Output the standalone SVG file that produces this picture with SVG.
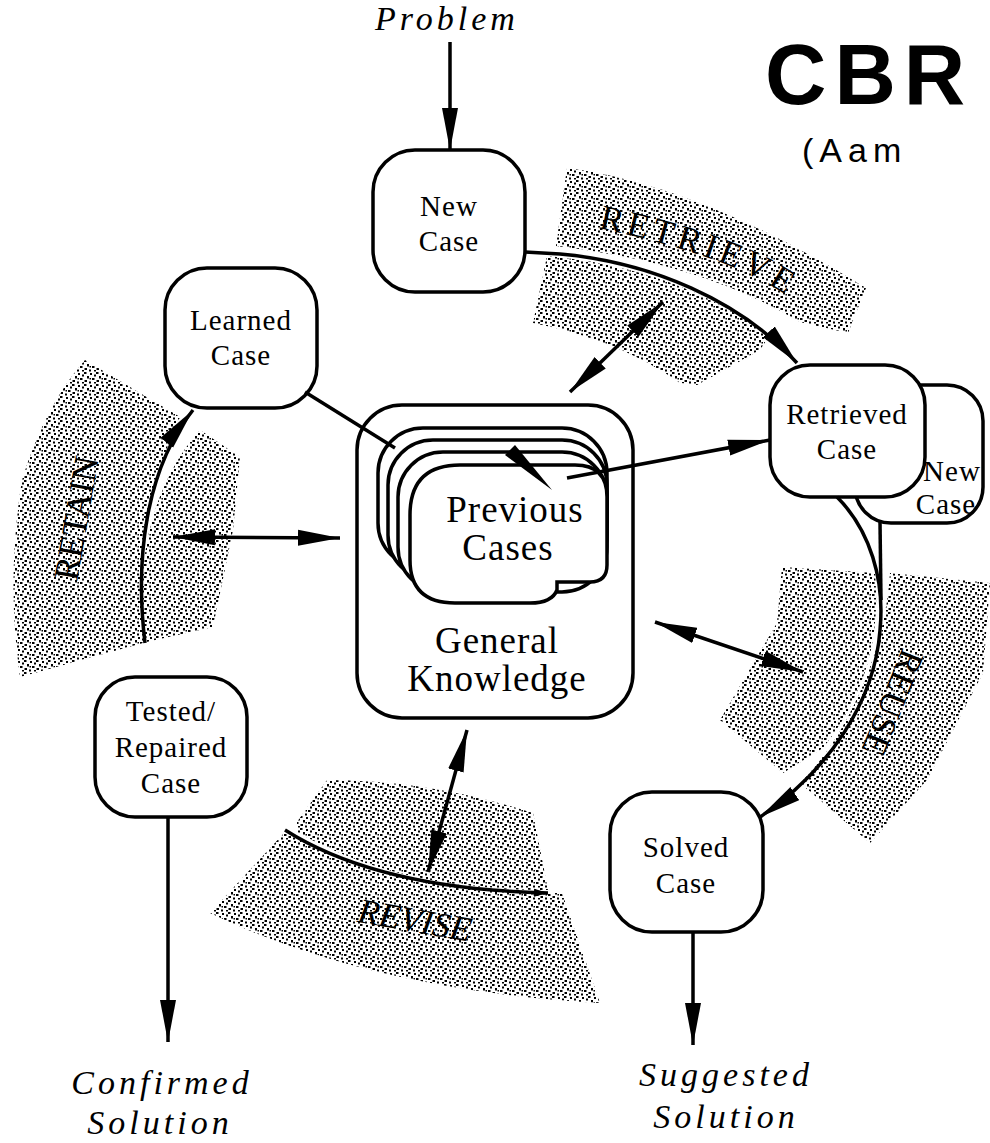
<svg xmlns="http://www.w3.org/2000/svg" width="990" height="1143" viewBox="0 0 990 1143">
<style>
.box{fill:#fff;stroke:#000;stroke-width:3.5}
.ln{fill:none;stroke:#000;stroke-width:3.5}
.band{fill:url(#dots)}
.nt{font-family:"Liberation Serif",serif;font-size:29px;text-anchor:middle;fill:#000;letter-spacing:1px}
.big{font-family:"Liberation Serif",serif;font-size:37px;text-anchor:middle;fill:#000;letter-spacing:1px}
.it{font-family:"Liberation Serif",serif;font-style:italic;font-size:34px;text-anchor:middle;fill:#000;letter-spacing:4px}
.step{font-family:"Liberation Serif",serif;font-size:35px;fill:#000}
</style>
<defs>
<pattern id="dots" width="12" height="12" patternUnits="userSpaceOnUse">
<rect width="12" height="12" fill="#fff"/>
<rect x="0" y="0" width="2.5" height="2"/>
<rect x="6" y="1" width="2" height="2"/>
<rect x="10" y="2.5" width="2" height="2"/>
<rect x="3" y="4" width="2" height="2.5"/>
<rect x="8" y="6" width="2.5" height="2"/>
<rect x="0.5" y="8" width="2.5" height="2"/>
<rect x="5" y="9.5" width="2" height="2"/>
<rect x="5.5" y="6" width="1.5" height="1.5"/>
<rect x="10" y="10" width="2" height="1.5"/>
</pattern>
<marker id="ah" markerUnits="userSpaceOnUse" markerWidth="46" markerHeight="18" refX="42" refY="9" orient="auto-start-reverse">
<path d="M0,1 L42,9 L0,17 Z" fill="#000"/>
</marker>
<marker id="ahs" markerUnits="userSpaceOnUse" markerWidth="16" markerHeight="10" refX="14" refY="5" orient="auto">
<path d="M0,1 L14,5 L0,9 Z" fill="#000"/>
</marker>
<path id="retrievePath" d="M598,228 Q748,260 800,306"/>
</defs>

<g id="bands">
<path class="band" d="M567,168 Q700,185 866,288 L848,333 L800,322 Q700,262 556,246 Z"/>
<path class="band" d="M547,256 C640,264 715,295 769,336 L760,350 L697,385 L680,383 Q620,340 533,323 Z"/>
<path class="band" d="M85,360 L180,417 Q150,480 143,560 L143,643 L20,677 Q6,580 22,480 Q45,405 85,360 Z"/>
<path class="band" d="M200,430 L240,457 L233,530 L213,627 L142,643 C137,570 147,490 200,430 Z"/>
<path class="band" d="M782,567 L875,573 C880,630 870,690 823,748 L783,773 L720,720 L777,623 Z"/>
<path class="band" d="M890,573 L990,583 L983,673 L927,780 L870,843 L800,783 C840,745 885,660 890,573 Z"/>
<path class="band" d="M297,822 L327,780 Q430,780 533,813 L548,890 C440,890 360,868 297,832 Z"/>
<path class="band" d="M210,913 L285,832 C340,866 420,890 548,893 L562,893 L600,1003 Q370,990 210,913 Z"/>
<text class="step"><textPath href="#retrievePath" textLength="200" lengthAdjust="spacing">RETRIEVE</textPath></text>
<text class="step" x="76" y="530" text-anchor="middle" transform="rotate(-80 76 518)">RETAIN</text>
<text class="step" x="893" y="715" text-anchor="middle" transform="rotate(112 893 703)">REUSE</text>
<text class="step" x="415" y="932" text-anchor="middle" font-style="italic" transform="rotate(10 415 920)">REVISE</text>
</g>

<g id="title">
<text x="765" y="104" font-family="'Liberation Sans',Arial,sans-serif" font-weight="bold" font-size="85" letter-spacing="8">CBR</text>
<text x="802" y="162" font-family="'Liberation Sans',Arial,sans-serif" font-size="34" letter-spacing="6">(Aam</text>
</g>

<text class="it" x="447" y="30" font-size="28" letter-spacing="3">Problem</text>

<g id="new-case">
<rect class="box" x="373" y="150" width="152" height="142" rx="42"/>
<text class="nt" x="449" y="216">New</text>
<text class="nt" x="449" y="251">Case</text>
</g>

<g id="learned-case">
<rect class="box" x="165" y="268" width="152" height="140" rx="42"/>
<text class="nt" x="241" y="330">Learned</text>
<text class="nt" x="241" y="365">Case</text>
</g>

<g id="general-knowledge">
<rect class="box" x="357" y="405" width="276" height="313" rx="45"/>
<text class="big" x="497" y="653">General</text>
<text class="big" x="497" y="691">Knowledge</text>
</g>

<g id="previous-cases">
<rect class="box" x="378" y="428" width="229" height="140" rx="45"/>
<rect class="box" x="388" y="440" width="219" height="140" rx="45"/>
<rect class="box" x="398" y="452" width="209" height="140" rx="45"/>
<path class="box" d="M410,515 Q410,465 460,465 L575,465 Q607,465 607,497 L607,565 Q607,582 590,582 L557,582 L557,590 Q552,603 530,603 L455,603 Q410,603 410,560 Z"/>
<text class="big" x="515" y="522" font-size="34">Previous</text>
<text class="big" x="508" y="560" font-size="34">Cases</text>
</g>

<g id="new-case-back">
<rect class="box" x="855" y="385" width="128" height="138" rx="36"/>
<text class="nt" x="952" y="481">New</text>
<text class="nt" x="946" y="514">Case</text>
</g>

<g id="retrieved-case">
<rect class="box" x="770" y="365" width="155" height="132" rx="40"/>
<text class="nt" x="847" y="424">Retrieved</text>
<text class="nt" x="847" y="459">Case</text>
</g>

<g id="tested-repaired-case">
<rect class="box" x="95" y="677" width="152" height="140" rx="40"/>
<text class="nt" x="171" y="721">Tested/</text>
<text class="nt" x="171" y="757">Repaired</text>
<text class="nt" x="171" y="793">Case</text>
</g>

<g id="solved-case">
<rect class="box" x="610" y="792" width="153" height="140" rx="42"/>
<text class="nt" x="686" y="857">Solved</text>
<text class="nt" x="686" y="893">Case</text>
</g>

<g id="confirmed-solution">
<text class="it" x="162" y="1094">Confirmed</text>
<text class="it" x="160" y="1134">Solution</text>
</g>

<g id="suggested-solution">
<text class="it" x="726" y="1086">Suggested</text>
<text class="it" x="726" y="1128">Solution</text>
</g>

<g id="connectors">
<path class="ln" marker-end="url(#ah)" d="M450,42 L450,150"/>
<path class="ln" marker-end="url(#ah)" d="M525,252 L560,254 C650,262 740,300 797,363"/>
<path class="ln" marker-start="url(#ah)" marker-end="url(#ah)" d="M570,392 L663,302"/>
<path class="ln" marker-end="url(#ah)" d="M567,478 L770,440"/>
<path class="ln" d="M305,392 L395,448"/>
<path d="M552,490 L505,455 L515,445 Z" fill="#000"/>
<path class="ln" marker-end="url(#ah)" d="M837,497 C870,530 885,580 880,630 C875,700 830,770 760,817"/>
<path class="ln" d="M880,522 L881,600"/>
<path class="ln" marker-start="url(#ah)" marker-end="url(#ah)" d="M655,622 L803,672"/>
<path class="ln" marker-end="url(#ah)" d="M693,932 L693,1045"/>
<path class="ln" marker-start="url(#ah)" marker-end="url(#ah)" d="M467,730 L428,872"/>
<path class="ln" marker-end="url(#ahs)" d="M285,830 C340,865 420,890 548,893"/>
<path class="ln" marker-start="url(#ah)" marker-end="url(#ah)" d="M173,537 L340,538"/>
<path class="ln" marker-end="url(#ah)" d="M145,643 C135,560 145,470 193,410"/>
<path class="ln" marker-end="url(#ah)" d="M168,817 L168,1042"/>
</g>
</svg>
